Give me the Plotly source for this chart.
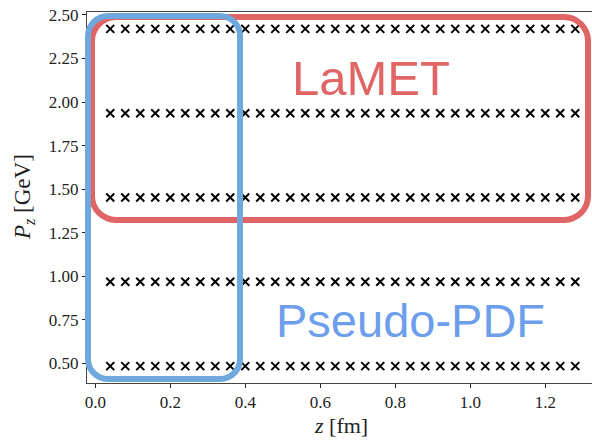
import plotly.graph_objects as go

# Lattice separations z (fm) and boost momenta P_z (GeV)
z_fm = [0.04, 0.08, 0.12, 0.16, 0.20, 0.24, 0.28, 0.32,
        0.36, 0.40, 0.44, 0.48, 0.52, 0.56, 0.60, 0.64,
        0.68, 0.72, 0.76, 0.80, 0.84, 0.88, 0.92, 0.96,
        1.00, 1.04, 1.08, 1.12, 1.16, 1.20, 1.24, 1.28]
pz_gev = [0.484, 0.968, 1.452, 1.936, 2.420]

x_ticks = [0.0, 0.2, 0.4, 0.6, 0.8, 1.0, 1.2]
y_ticks = [0.50, 0.75, 1.00, 1.25, 1.50, 1.75, 2.00, 2.25, 2.50]

W, H = 592, 440
ML, MR, MT, MB = 87, 0, 12, 57
PW, PH = W - ML - MR, H - MT - MB

RED = "#E06666"
BLUE = "#6FA8DC"
BLUE_TXT = "#6D9EEB"
SERIF = "Liberation Serif, DejaVu Serif, serif"
SANS = "Liberation Sans, Arial, sans-serif"


def px(x):
    return (x - ML) / PW


def py(y):
    return (MT + PH - y) / PH


def rounded_rect(x0, y0, x1, y1, r):
    k = 0.5523 * r
    pts = [
        ("M", [(x0 + r, y0)]),
        ("L", [(x1 - r, y0)]),
        ("C", [(x1 - r + k, y0), (x1, y0 + r - k), (x1, y0 + r)]),
        ("L", [(x1, y1 - r)]),
        ("C", [(x1, y1 - r + k), (x1 - r + k, y1), (x1 - r, y1)]),
        ("L", [(x0 + r, y1)]),
        ("C", [(x0 + r - k, y1), (x0, y1 - r + k), (x0, y1 - r)]),
        ("L", [(x0, y0 + r)]),
        ("C", [(x0, y0 + r - k), (x0 + r - k, y0), (x0 + r, y0)]),
    ]
    parts = []
    for cmd, coords in pts:
        parts.append(cmd + " " + " ".join(f"{px(a):.5f},{py(b):.5f}" for a, b in coords))
    return " ".join(parts) + " Z"


fig = go.Figure()
for p in pz_gev:
    fig.add_trace(go.Scatter(
        x=z_fm, y=[p] * len(z_fm), mode="markers",
        marker=dict(symbol="x-thin", size=8, color="black",
                    line=dict(width=2, color="black")),
        showlegend=False, hoverinfo="skip", cliponaxis=False,
    ))

x_range = [-0.022, -0.022 + PW / 375.0]
y_range = [0.387, 2.517]

fig.update_layout(
    width=W, height=H,
    margin=dict(l=ML, r=MR, t=MT, b=MB, pad=0),
    paper_bgcolor="white", plot_bgcolor="white",
    xaxis=dict(
        range=x_range, showgrid=False, zeroline=False,
        showline=True, mirror=True, linecolor="#444", linewidth=1,
        ticks="outside", ticklen=4, tickwidth=1, tickcolor="#222",
        tickvals=x_ticks, ticktext=[f"{v:.1f}" for v in x_ticks],
        tickfont=dict(family=SERIF, size=17, color="#222"),
    ),
    yaxis=dict(
        range=y_range, showgrid=False, zeroline=False,
        showline=True, mirror=False, linecolor="#444", linewidth=1,
        ticks="outside", ticklen=4, tickwidth=1, tickcolor="#222",
        tickvals=y_ticks, ticktext=[f"{v:.2f}" for v in y_ticks],
        tickfont=dict(family=SERIF, size=17, color="#222"),
    ),
    shapes=[
        dict(type="path", xref="paper", yref="paper", layer="above",
             path=rounded_rect(92, 17, 588, 220, 24),
             line=dict(color=RED, width=6)),
        dict(type="path", xref="paper", yref="paper", layer="above",
             path=rounded_rect(88, 16, 240, 379, 20),
             line=dict(color=BLUE, width=6)),
    ],
    annotations=[
        dict(text="LaMET", xref="paper", yref="paper", x=px(371), y=py(78),
             xanchor="center", yanchor="middle", showarrow=False,
             font=dict(family=SANS, size=49, color=RED)),
        dict(text="Pseudo-PDF", xref="paper", yref="paper", x=px(410), y=py(320),
             xanchor="center", yanchor="middle", showarrow=False,
             font=dict(family=SANS, size=47, color=BLUE_TXT)),
        dict(text="<i>z</i> [fm]", xref="paper", yref="paper", x=px(341), y=py(425),
             xanchor="center", yanchor="middle", showarrow=False,
             font=dict(family=SERIF, size=22, color="#222")),
        dict(text="<i>P</i><sub><i>z</i></sub> [GeV]", xref="paper", yref="paper",
             x=px(24), y=py(197), textangle=-90,
             xanchor="center", yanchor="middle", showarrow=False,
             font=dict(family=SERIF, size=23, color="#222")),
    ],
)

fig.write_html("out.html")
